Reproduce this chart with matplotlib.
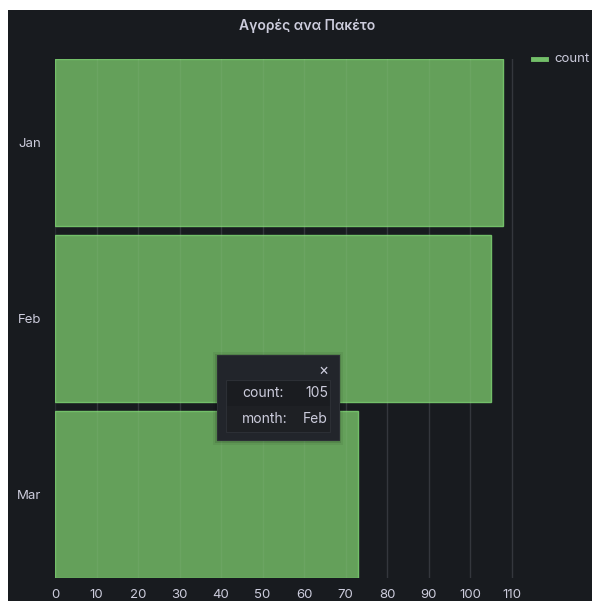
import matplotlib
matplotlib.use("Agg")
import matplotlib.pyplot as plt
from matplotlib.patches import Rectangle

plt.rcParams['font.family'] = ['Inter', 'DejaVu Sans']

months = ["Jan", "Feb", "Mar"]
counts = [108, 105, 73]
xticks = list(range(0, 120, 10))
title = "Αγορές ανα Πακέτο"

W, H = 592, 601
bg = "#181b1f"
fill = "#64a05a"
edge = "#73bf69"
txt = "#ccccdc"


def px(x, y):
    """pixel (from top-left) -> figure fraction"""
    return x / W, 1 - y / H


fig = plt.figure(figsize=(W / 100, H / 100), dpi=100)
fig.patch.set_facecolor("white")
# dark panel
fig.add_artist(Rectangle(px(8, H), (W - 8) / W, (H - 10) / H,
                         transform=fig.transFigure, facecolor=bg, edgecolor="none", zorder=0))

l, b = px(55, 578)
r, t = px(520, 59)
ax = fig.add_axes([l, b, r - l, t - b])
ax.patch.set_alpha(0)

ypos = list(range(len(months)))
ax.barh(ypos, counts, height=0.95, color=fill, edgecolor=edge, linewidth=1, zorder=2)
ax.set_ylim(len(months) - 0.525, -0.475)
ax.set_xlim(0, 112)
ax.set_xticks(xticks)
ax.set_yticks(ypos)
ax.set_yticklabels(months)
ax.grid(axis="x", color="#2a2d33", linewidth=1, zorder=1)
# faint grid showing through the bars
for v in xticks[1:]:
    ax.axvline(v, color="white", alpha=0.05, linewidth=1, zorder=3)
for s in ax.spines.values():
    s.set_visible(False)
ax.tick_params(length=0, colors=txt, labelsize=9.5)
ax.tick_params(axis="x", pad=8)
ax.tick_params(axis="y", pad=10)

fig.text(*px(307, 26), title, ha="center", va="center", color=txt,
         fontsize=10, fontweight="semibold")

# legend
fig.add_artist(plt.Line2D([533 / W, 546 / W], [1 - 59 / H] * 2, color=edge, linewidth=3.5,
                          transform=fig.transFigure))
fig.text(*px(554, 59), "count", ha="left", va="center", color=txt, fontsize=9.5)

# tooltip
for d, a in [(4, 0.06), (2, 0.1)]:
    fig.add_artist(Rectangle(px(217 - d, 440 + d + 1), (122 + 2 * d) / W, (85 + 2 * d) / H,
                             transform=fig.transFigure, facecolor="black", edgecolor="none",
                             alpha=a, zorder=5))
fig.add_artist(Rectangle(px(217, 440), 122 / W, 85 / H, transform=fig.transFigure,
                         facecolor="#22252b", edgecolor="#2c2f35", linewidth=0.8, zorder=6))
fig.add_artist(Rectangle(px(226, 406), 104 / W, 26 / H, transform=fig.transFigure,
                         facecolor="#1a1c20", edgecolor="none", zorder=7))
fig.add_artist(Rectangle(px(226, 432), 104 / W, 26 / H, transform=fig.transFigure,
                         facecolor="#1e2024", edgecolor="none", zorder=7))
fig.add_artist(Rectangle(px(226, 432), 104 / W, 52 / H, transform=fig.transFigure,
                         facecolor="none", edgecolor="#2c2f35", linewidth=0.8, zorder=8))
fig.text(*px(323, 370), "×", ha="center", va="center", color=txt, fontsize=11, zorder=9)
fig.text(*px(242, 393), "count:", ha="left", va="center", color=txt, fontsize=10, zorder=9)
fig.text(*px(328, 393), str(counts[1]), ha="right", va="center", color=txt, fontsize=10, zorder=9)
fig.text(*px(242, 419), "month:", ha="left", va="center", color=txt, fontsize=10, zorder=9)
fig.text(*px(328, 419), months[1], ha="right", va="center", color=txt, fontsize=10, zorder=9)

fig.savefig("out.png", dpi=100, facecolor=fig.get_facecolor())
